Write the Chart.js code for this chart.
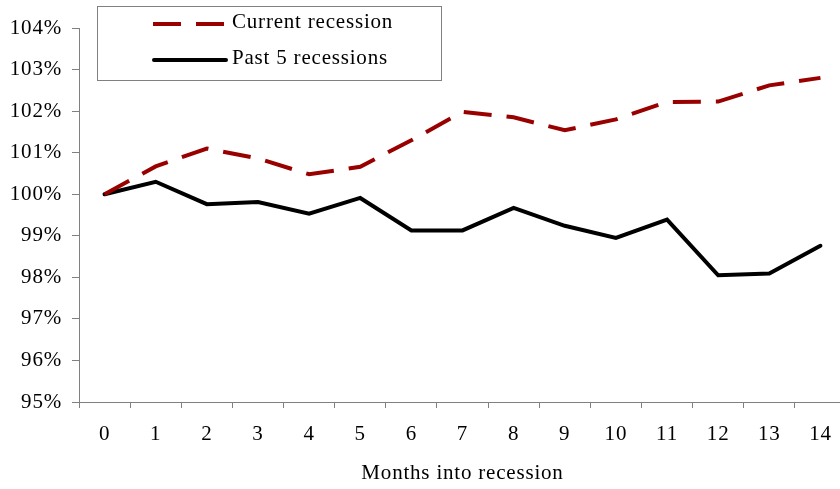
<!DOCTYPE html>
<html>
<head>
<meta charset="utf-8">
<script src="https://cdn.jsdelivr.net/npm/chart.js@4.4.0/dist/chart.umd.min.js"></script>
<style>
  html, body { margin: 0; padding: 0; background: #fff; overflow: hidden; }
  #chart-canvas { display: block; }
</style>
</head>
<body>
<canvas id="chart-canvas" width="847" height="489"></canvas>
<script>
const months = [0, 1, 2, 3, 4, 5, 6, 7, 8, 9, 10, 11, 12, 13, 14];
const currentRecession = [100, 100.67, 101.1, 100.86, 100.48, 100.66, 101.3, 101.98, 101.85, 101.54, 101.8, 102.22, 102.23, 102.62, 102.8];
const pastRecessions = [100, 100.3, 99.76, 99.81, 99.53, 99.91, 99.13, 99.13, 99.67, 99.24, 98.95, 99.39, 98.05, 98.09, 98.76];
const yTicks = [95, 96, 97, 98, 99, 100, 101, 102, 103, 104];

const serif = "'Liberation Serif', 'Times New Roman', serif";
const axisGrey = "#808080";
const spacing = "0.8px";

// the original text is set a bit wide, so loosen the letters a little
const wideText = {
  id: "wideText",
  beforeLayout(chart) { chart.ctx.letterSpacing = spacing; },
  beforeDraw(chart) { chart.ctx.letterSpacing = spacing; }
};

// legend box drawn by hand, inside the plot like the original
const boxLegend = {
  id: "boxLegend",
  afterDraw(chart) {
    const ctx = chart.ctx;
    ctx.save();
    ctx.strokeStyle = axisGrey;
    ctx.lineWidth = 1;
    ctx.strokeRect(97.5, 6.5, 344, 74);
    const rows = [24, 60];
    chart.data.datasets.forEach((ds, i) => {
      const y = rows[i];
      ctx.strokeStyle = ds.borderColor;
      ctx.lineWidth = ds.borderWidth;
      ctx.lineCap = ds.borderCapStyle || "butt";
      ctx.setLineDash(ds.borderDash || []);
      ctx.beginPath();
      ctx.moveTo(ds.borderDash ? 153 : 154, y);
      ctx.lineTo(ds.borderDash ? 225 : 226, y);
      ctx.stroke();
      ctx.setLineDash([]);
      ctx.fillStyle = "#000";
      ctx.font = "21px " + serif;
      ctx.textBaseline = "middle";
      ctx.fillText(ds.label, 232, y - 2);
    });
    ctx.restore();
  }
};

new Chart(document.getElementById("chart-canvas"), {
  type: "line",
  data: {
    labels: months,
    datasets: [
      {
        label: "Current recession",
        data: currentRecession,
        borderColor: "#990000",
        borderWidth: 4,
        borderDash: [28, 15],
        pointRadius: 0,
        tension: 0
      },
      {
        label: "Past 5 recessions",
        data: pastRecessions,
        borderColor: "#000000",
        borderWidth: 4,
        borderCapStyle: "round",
        pointRadius: 0,
        tension: 0
      }
    ]
  },
  options: {
    responsive: false,
    animation: false,
    layout: { padding: { top: 28, right: 1, left: 0, bottom: 0 } },
    plugins: {
      legend: { display: false },
      tooltip: { enabled: false }
    },
    scales: {
      x: {
        type: "category",
        offset: true,
        grid: { offset: true, drawOnChartArea: false, tickLength: 6, color: axisGrey },
        border: { color: axisGrey },
        ticks: { color: "#000", font: { family: serif, size: 21 }, padding: 14, maxRotation: 0 },
        title: {
          display: true,
          text: "Months into recession",
          color: "#000",
          font: { family: serif, size: 21 },
          padding: { top: 0, bottom: 3 }
        },
        afterFit: (scale) => { scale.height = 87; }
      },
      y: {
        min: 95,
        max: 104,
        afterBuildTicks: (scale) => { scale.ticks = yTicks.map(v => ({ value: v })); },
        grid: { drawOnChartArea: false, tickLength: 7, color: axisGrey },
        border: { color: axisGrey },
        ticks: {
          color: "#000",
          font: { family: serif, size: 21 },
          padding: 10,
          callback: (v) => v + "%"
        },
        afterFit: (scale) => { scale.width = 79; }
      }
    }
  },
  plugins: [wideText, boxLegend]
});
</script>
</body>
</html>
